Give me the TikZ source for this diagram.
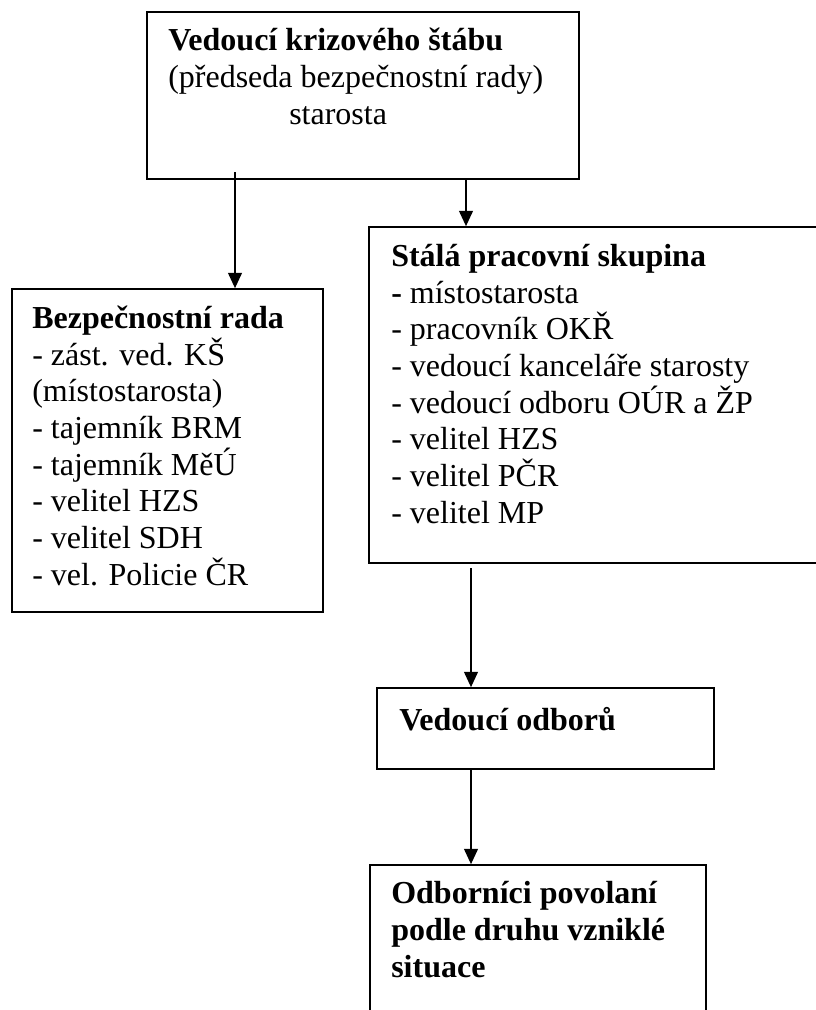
\documentclass[tikz,border=0pt]{standalone}
\usepackage{fontspec}
\setmainfont{Liberation Serif}
\usetikzlibrary{arrows.meta, positioning, fit, calc}

\begin{document}
\begin{tikzpicture}[x=0.75pt, y=-0.75pt,
  box/.style={draw, line width=1.3pt, inner sep=0pt},
  txt/.style={anchor=base west, align=left, inner sep=0pt,
    font=\fontsize{24}{27.5}\selectfont},
  arr/.style={-{Triangle[length=11.5pt, width=10.5pt]}, line width=0.9pt}]
\useasboundingbox (0,0) rectangle (815,1010);
% boxes
\node[box, fit={(147,12) (579,179)}] (chief) {};
\node[box, fit={(12,289) (323,612)}] (council) {};
\node[box, fit={(369,227) (840,563)}] (group) {};
\node[box, fit={(377,688) (714,769)}] (heads) {};
\node[box, fit={(370,865) (706,1040)}] (experts) {};
% texts (anchored at the baseline of the last line)
\node[txt] (chieftxt) at (168,124) {\textbf{Vedoucí krizového štábu}\\(předseda bezpečnostní rady)\\\hspace*{90.75pt}starosta};
\node[txt] (counciltxt) at (32,585) {\textbf{Bezpečnostní rada}\\- zást. ved. KŠ\\(místostarosta)\\- tajemník BRM\\- tajemník MěÚ\\- velitel HZS\\- velitel SDH\\- vel. Policie ČR};
\node[txt] (grouptxt) at (391,523) {\textbf{Stálá pracovní skupina}\\\textbf{-} místostarosta\\- pracovník OKŘ\\- vedoucí kanceláře starosty\\- vedoucí odboru OÚR a ŽP\\- velitel HZS\\- velitel PČR\\- velitel MP};
\node[txt] (headstxt) at (399,730) {\textbf{Vedoucí odborů}};
\node[txt] (expertstxt) at (391,977) {\textbf{Odborníci povolaní}\\\textbf{podle druhu vzniklé}\\\textbf{situace}};
% arrows
\coordinate (a1) at (235,172);
\coordinate (a2) at (466,0);
\coordinate (a3) at (471,568);
\draw[arr] (a1) -- (a1 |- council.north);
\draw[arr] (a2 |- chief.south) -- (a2 |- group.north);
\draw[arr] (a3) -- (a3 |- heads.north);
\draw[arr] (a3 |- heads.south) -- (a3 |- experts.north);
\end{tikzpicture}
\end{document}
